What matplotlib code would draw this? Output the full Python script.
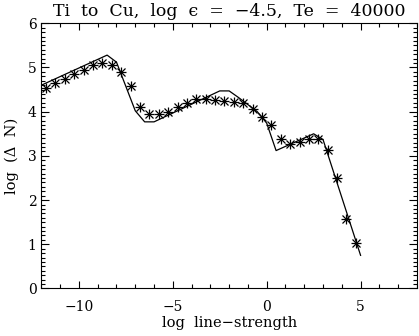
import numpy as np
import matplotlib.pyplot as plt
from matplotlib.ticker import MultipleLocator

plt.rcParams['font.family'] = ['DejaVu Serif', 'DejaVu Sans']

# observed points (asterisks)
obs_x = -11.75 + 0.5 * np.arange(34)
obs_y = [4.54, 4.64, 4.73, 4.85, 4.94, 5.06, 5.11, 5.06, 4.89, 4.58,
         4.10, 3.94, 3.94, 4.00, 4.10, 4.19, 4.28, 4.28, 4.26, 4.25,
         4.21, 4.19, 4.05, 3.87, 3.71, 3.38, 3.26, 3.31, 3.39, 3.38,
         3.13, 2.50, 1.58, 1.02]

# model curve
model_x = [-12.0, -8.5, -8.0, -7.5, -7.0, -6.5, -6.0, -2.5, -2.0, -1.5,
           -0.5, 0.0, 0.5, 2.5, 3.0, 5.0]
model_y = [4.60, 5.28, 5.12, 4.57, 4.02, 3.77, 3.77, 4.47, 4.47, 4.32,
           4.00, 3.74, 3.12, 3.50, 3.37, 0.75]

fig = plt.figure(figsize=(4.19, 3.36), dpi=100)
ax = fig.add_axes([0.0988, 0.1414, 0.8962, 0.7893])

ax.plot(model_x, model_y, color='black', lw=0.9)
ax.plot(obs_x, obs_y, ls='none', marker='+', ms=7, mew=0.9, color='black')
ax.plot(obs_x, obs_y, ls='none', marker='x', ms=5.5, mew=0.9, color='black')

ax.set_xlim(-12, 8)
ax.set_ylim(0, 6)
ax.xaxis.set_major_locator(MultipleLocator(5))
ax.xaxis.set_minor_locator(MultipleLocator(1))
ax.yaxis.set_major_locator(MultipleLocator(1))
ax.yaxis.set_minor_locator(MultipleLocator(0.1))
ax.tick_params(which='both', direction='in', top=True, right=True,
               labelsize=10, width=0.8)
ax.tick_params(which='major', length=6)
ax.tick_params(which='minor', length=3)
ax.tick_params(axis='x', which='major', length=5, pad=8)
for s in ax.spines.values():
    s.set_linewidth(0.8)

ax.set_title('Ti  to  Cu,  log  \u03f5  =  \u22124.5,  Te  =  40000', fontsize=12.5, pad=5)
ax.set_xlabel('log  line\u2212strength', fontsize=10.5, labelpad=2)
ax.set_ylabel('log  (\u0394  N)', fontsize=10.5, labelpad=6)

fig.savefig('out.png', dpi=100)
